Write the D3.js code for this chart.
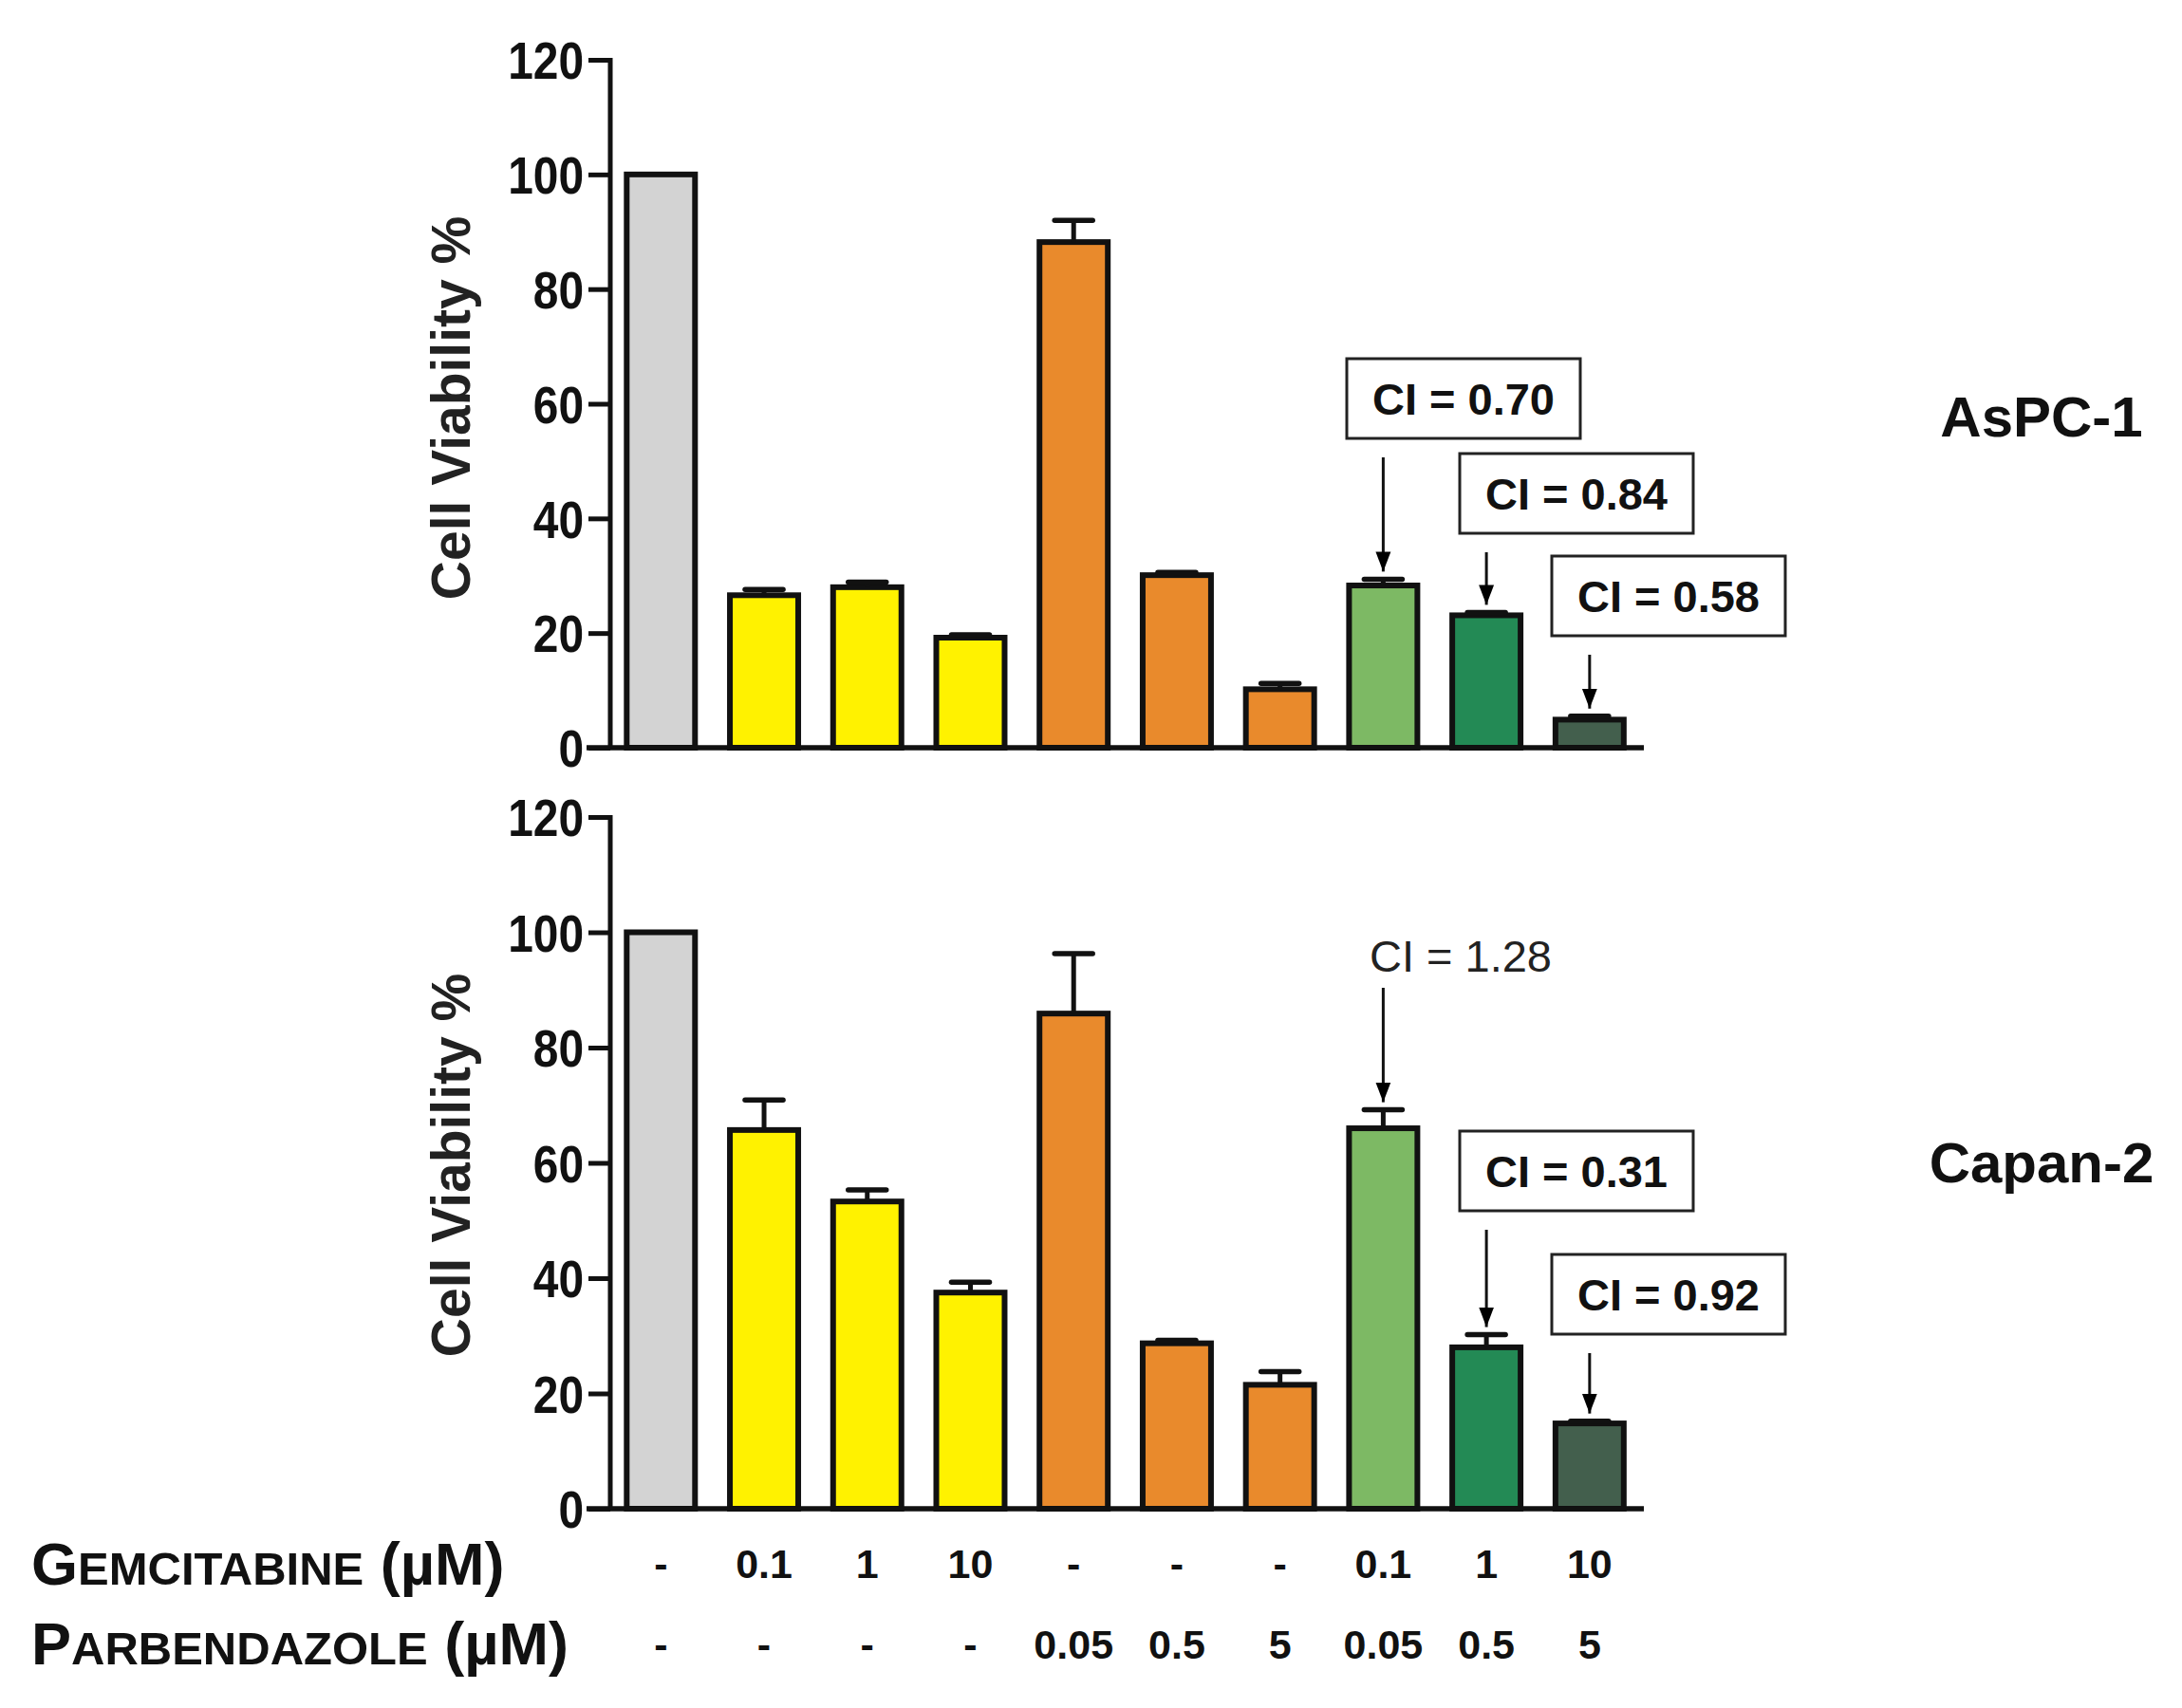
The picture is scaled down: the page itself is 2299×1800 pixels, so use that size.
<!DOCTYPE html>
<html><head><meta charset="utf-8">
<script src="https://cdn.jsdelivr.net/npm/d3@7"></script>
<style>body{margin:0;background:#fff}svg{display:block}text{font-family:"Liberation Sans",Arial,sans-serif}</style>
</head><body>
<svg id="c" width="2299" height="1800"></svg>
<script>
// ---- data ----
const categories = ["ctrl","G0.1","G1","G10","P0.05","P0.5","P5","G0.1+P0.05","G1+P0.5","G10+P5"];
const gemLabels = ["-","0.1","1","10","-","-","-","0.1","1","10"];
const parbLabels = ["-","-","-","-","0.05","0.5","5","0.05","0.5","5"];
const barColors = ["#d3d3d3","#fff200","#fff200","#fff200","#e98a2c","#e98a2c","#e98a2c","#7db964","#238a55","#435f4d"];
const aspcValues = [100, 26.6, 28.0, 19.2, 88.2, 30.1, 10.2, 28.3, 23.1, 4.9];
const aspcErrTop = [100, 27.6, 28.9, 19.7, 92.0, 30.6, 11.2, 29.4, 23.6, 5.5];
const capanValues = [100, 65.7, 53.3, 37.5, 85.9, 28.7, 21.5, 66.0, 28.0, 14.8];
const capanErrTop = [100, 70.9, 55.3, 39.3, 96.3, 29.2, 23.8, 69.2, 30.2, 15.2];
const yTicks = [0,20,40,60,80,100,120];
const aspcCI = [{i:7,label:"CI = 0.70",boxed:true},{i:8,label:"CI = 0.84",boxed:true},{i:9,label:"CI = 0.58",boxed:true}];
const capanCI = [{i:7,label:"CI = 1.28",boxed:false},{i:8,label:"CI = 0.31",boxed:true},{i:9,label:"CI = 0.92",boxed:true}];

// ---- layout ----
const svg = d3.select("#c");
const x = d3.scaleBand().domain(categories).range([643,1732]).paddingInner(0.338).paddingOuter(0.177).align(0.45);
const panels = [
  {name:"AsPC-1", vals:aspcValues, err:aspcErrTop, ci:aspcCI, range:[788,63], nameY:460, labelY:430,
   boxes:[{cx:1542,top:378},{cx:1661,top:478},{cx:1758,top:586}]},
  {name:"Capan-2", vals:capanValues, err:capanErrTop, ci:capanCI, range:[1590,861], nameY:1246, labelY:1228,
   boxes:[{cx:1539,top:970},{cx:1661,top:1192},{cx:1758,top:1322}]}
];
const boxW = 246, boxH = 84;

svg.append("defs").append("marker").attr("id","ah").attr("viewBox","0 0 10 10")
  .attr("refX",10).attr("refY",5).attr("markerWidth",7).attr("markerHeight",7)
  .attr("markerUnits","strokeWidth").attr("orient","auto")
  .append("path").attr("d","M0,1.2L10,5L0,8.8Z").attr("fill","#000");

panels.forEach(p=>{
  const y = d3.scaleLinear().domain([0,120]).range(p.range);
  const g = svg.append("g");
  // bars
  g.selectAll("rect.bar").data(p.vals).join("rect").attr("class","bar")
    .attr("x",(d,i)=>x(categories[i])).attr("width",x.bandwidth())
    .attr("y",d=>y(d)).attr("height",d=>y(0)-y(d))
    .attr("fill",(d,i)=>barColors[i]).attr("stroke","#111").attr("stroke-width",6);
  // error bars
  p.err.forEach((e,i)=>{
    if (e<=p.vals[i]) return;
    const cx = x(categories[i])+x.bandwidth()/2;
    g.append("line").attr("x1",cx).attr("x2",cx).attr("y1",y(p.vals[i])).attr("y2",y(e))
      .attr("stroke","#111").attr("stroke-width",5);
    g.append("line").attr("x1",cx-20).attr("x2",cx+20).attr("y1",y(e)).attr("y2",y(e))
      .attr("stroke","#111").attr("stroke-width",5.5).attr("stroke-linecap","round");
  });
  // y axis
  const ax = g.append("g").attr("transform","translate(643,0)")
    .call(d3.axisLeft(y).tickValues(yTicks).tickSize(23).tickPadding(5));
  ax.select(".domain").attr("stroke","#111").attr("stroke-width",5).attr("d",`M0,${y(120)-2}V${y(0)}`);
  ax.selectAll(".tick line").attr("stroke","#111").attr("stroke-width",5);
  ax.selectAll(".tick text").attr("font-size",55).attr("font-weight","bold").attr("fill","#111")
    .attr("font-family","'Liberation Sans',Arial,sans-serif").attr("dy","0.36em")
    .each(function(){ const w=this.getComputedTextLength(); d3.select(this).attr("textLength",w*0.87).attr("lengthAdjust","spacingAndGlyphs"); });
  // x axis line
  g.append("line").attr("x1",618).attr("x2",1732).attr("y1",y(0)).attr("y2",y(0))
    .attr("stroke","#111").attr("stroke-width",5.5);
  // y label
  g.append("text").attr("transform",`translate(495,${p.labelY}) rotate(-90)`)
    .attr("text-anchor","middle").attr("font-size",57).attr("font-weight","bold").attr("fill","#222")
    .text("Cell Viability %");
  // panel name
  g.append("text").attr("x",2151).attr("y",p.nameY).attr("text-anchor","middle")
    .attr("font-size",60).attr("font-weight","bold").attr("fill","#111").text(p.name);
  // CI annotations
  p.ci.forEach((c,k)=>{
    const b = p.boxes[k];
    const cx = x(categories[c.i])+x.bandwidth()/2;
    let arrowStart;
    if (c.boxed){
      g.append("rect").attr("x",b.cx-boxW/2).attr("y",b.top).attr("width",boxW).attr("height",boxH)
        .attr("fill","#fff").attr("stroke","#222").attr("stroke-width",3);
      g.append("text").attr("x",b.cx).attr("y",b.top+boxH/2+17).attr("text-anchor","middle")
        .attr("font-size",47).attr("font-weight","bold").attr("fill","#111").text(c.label);
      arrowStart = b.top+boxH+20;
    } else {
      g.append("text").attr("x",b.cx).attr("y",b.top+54).attr("text-anchor","middle")
        .attr("font-size",47).attr("fill","#222").text(c.label);
      arrowStart = b.top+71;
    }
    g.append("line").attr("x1",cx).attr("x2",cx).attr("y1",arrowStart).attr("y2",y(p.err[c.i])-8)
      .attr("stroke","#111").attr("stroke-width",3).attr("marker-end","url(#ah)");
  });
});

// treatment rows
function smallCaps(yPos, first, rest, tail){
  const t = svg.append("text").attr("x",33).attr("y",yPos).attr("font-weight","bold").attr("fill","#111");
  t.append("tspan").attr("font-size",63).text(first);
  t.append("tspan").attr("font-size",49).text(rest);
  t.append("tspan").attr("font-size",63).text(tail);
}
smallCaps(1670,"G","EMCITABINE"," (µM)");
smallCaps(1754,"P","ARBENDAZOLE"," (µM)");
svg.selectAll("text.gem").data(gemLabels).join("text").attr("class","gem")
  .attr("x",(d,i)=>x(categories[i])+x.bandwidth()/2).attr("y",1663).attr("text-anchor","middle")
  .attr("font-size",43).attr("font-weight","bold").attr("fill","#111").text(d=>d);
svg.selectAll("text.parb").data(parbLabels).join("text").attr("class","parb")
  .attr("x",(d,i)=>x(categories[i])+x.bandwidth()/2).attr("y",1748).attr("text-anchor","middle")
  .attr("font-size",43).attr("font-weight","bold").attr("fill","#111").text(d=>d);
</script>
</body></html>
